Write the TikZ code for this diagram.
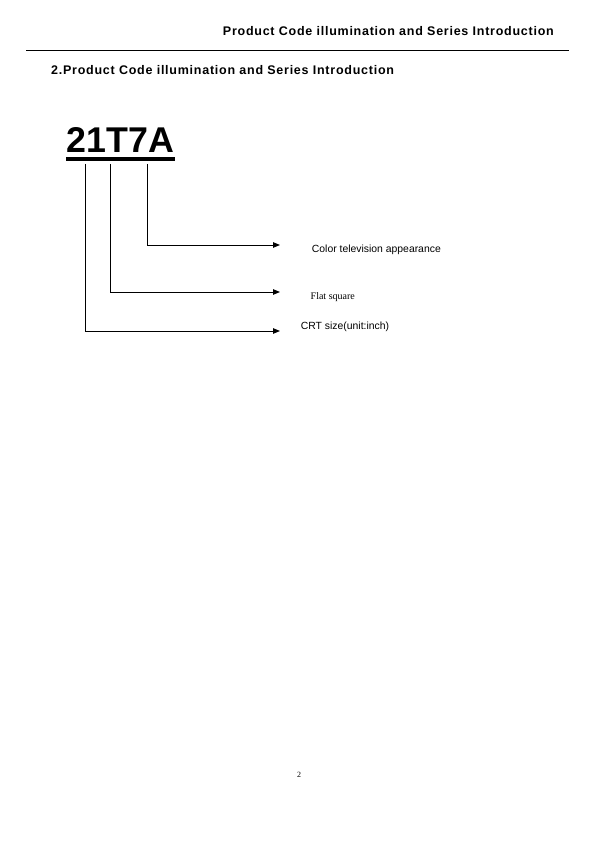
\documentclass[tikz,border=0pt]{standalone}
\usepackage{fontspec}
\setmainfont{Liberation Sans}
\newfontfamily\serifface{Liberation Serif}
\usetikzlibrary{arrows.meta}

\tikzset{
  headtext/.style={font=\bfseries\fontsize{12.5}{14}\selectfont\addfontfeature{LetterSpace=6}, inner sep=0pt},
  codetext/.style={font=\bfseries\fontsize{35.8}{40}\selectfont, inner sep=0pt},
  leader/.style={line width=0.9pt, -{Triangle[length=7pt,width=5.5pt]}},
  labeltext/.style={anchor=base west, inner sep=0pt, font=\fontsize{10.4}{12}\selectfont}
}

\begin{document}
\begin{tikzpicture}[x=1pt,y=-1pt]
\useasboundingbox[fill=white] (0,0) rectangle (595,842);

%% Page header
\node[headtext, anchor=base east] (header) at (554,35.3) {Product Code illumination and Series Introduction};
\coordinate (ruleL) at (26,50);
\coordinate (ruleR) at (569,50);
\draw[line width=0.7pt] (ruleL)--(ruleR);
\node[headtext, anchor=base west] (title) at (51,74.7) {2.Product Code illumination and Series Introduction};

%% Product code
\node[codetext, anchor=base west] (code) at (66.5,152.3) {21T7A};
\coordinate (ulL) at (66,159);
\coordinate (ulR) at (175,159);
\draw[line width=3.3pt] (ulL)--(ulR);

%% Leaders from the letters
\coordinate (size) at (85,164);
\coordinate (flat) at (110.5,164);
\coordinate (look) at (147.5,164);
\coordinate (sizeEnd) at (280,331);
\coordinate (flatEnd) at (280,292);
\coordinate (lookEnd) at (280,245);
\draw[leader] (look) |- (lookEnd);
\draw[leader] (flat) |- (flatEnd);
\draw[leader] (size) |- (sizeEnd);

%% Meanings
\node[labeltext] (lookLabel) at (311.7,252.5) {Color television appearance};
\node[labeltext, font=\serifface\fontsize{10}{12}\selectfont] (flatLabel) at (310.5,299.5) {Flat square};
\node[labeltext] (sizeLabel) at (300.7,329.5) {CRT size(unit:inch)};

%% Page number
\node[font=\serifface\fontsize{8}{10}\selectfont, inner sep=0pt] (page) at (299,775) {2};

\end{tikzpicture}
\end{document}
